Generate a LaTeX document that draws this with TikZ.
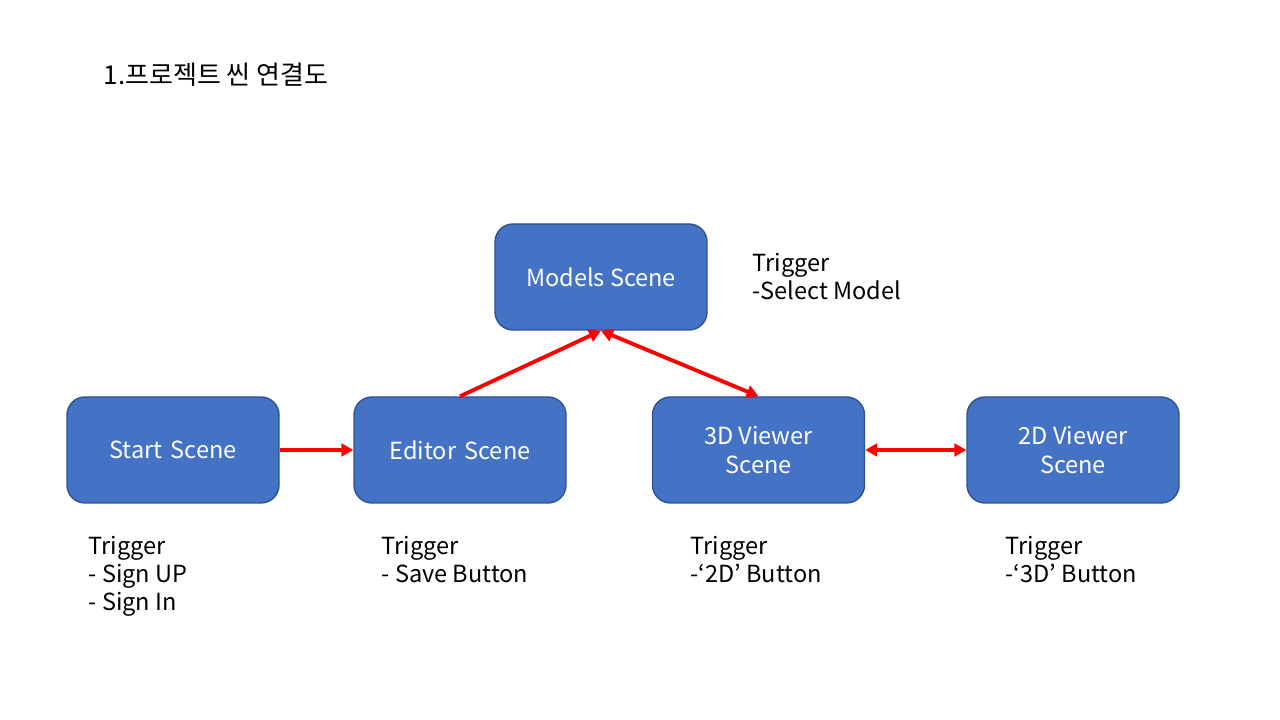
\documentclass[tikz,border=0pt]{standalone}
\usepackage{fontspec}
\setmainfont{Noto Sans CJK KR}
\usetikzlibrary{arrows.meta}
\definecolor{sceneblue}{HTML}{4472C4}
\definecolor{sceneedge}{HTML}{2F528F}

\begin{document}
\begin{tikzpicture}[
  scene/.style={fill=sceneblue, draw=sceneedge, line width=0.4pt, rounded corners=0.18cm,
    minimum width=2.12cm, minimum height=1.06cm, text=white, align=center,
    font=\fontsize{6.7}{8}\selectfont},
  note/.style={anchor=base west, align=left, inner sep=0pt, font=\fontsize{6.7}{8}\selectfont},
  link/.style={red, line width=1.1pt, -{Triangle[length=3.4pt,width=3.6pt]}},
  both/.style={link, {Triangle[length=3.4pt,width=3.6pt]}-{Triangle[length=3.4pt,width=3.6pt]}}]
  \useasboundingbox (0,0) rectangle (12.8,7.2);
  \node [note, font=\fontsize{7.4}{8}\selectfont] (title) at (1.03,6.35) {1.프로젝트 씬 연결도};
  \node [scene] (models) at (6.01,4.43) {Models Scene};
  \node [scene] (start) at (1.73,2.70) {Start\hspace{0.35em}Scene};
  \node [scene] (editor) at (4.60,2.70) {Editor\hspace{0.35em}Scene};
  \node [scene] (viewer3d) at (7.585,2.70) {3D Viewer\\Scene};
  \node [scene] (viewer2d) at (10.73,2.70) {2D Viewer\\Scene};
  \draw [link] (start.east) -- (editor.west);
  \draw [link] (editor.north) -- (models.south);
  \draw [both] (models.south) -- (viewer3d.north);
  \draw [both] (viewer3d.east) -- (viewer2d.west);
  \node [note] (models-note) at (7.52,4.20) {Trigger\\-Select Model};
  \node [note] (start-note) at (0.88,1.09) {Trigger\\- Sign UP\\- Sign In};
  \node [note] (editor-note) at (3.81,1.37) {Trigger\\- Save Button};
  \node [note] (viewer3d-note) at (6.90,1.37) {Trigger\\-‘2D’ Button};
  \node [note] (viewer2d-note) at (10.05,1.37) {Trigger\\-‘3D’ Button};
\end{tikzpicture}
\end{document}
